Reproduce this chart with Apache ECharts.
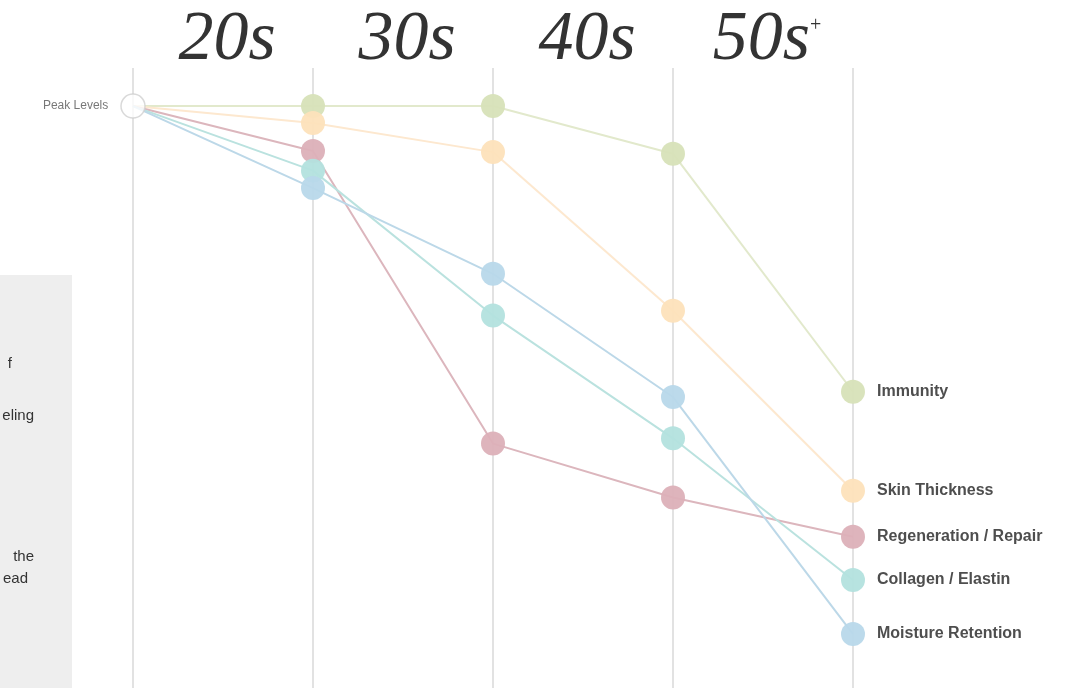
<!DOCTYPE html>
<html>
<head>
<meta charset="utf-8">
<script src="https://cdn.jsdelivr.net/npm/echarts@6/dist/echarts.min.js"></script>
<style>
html,body{margin:0;padding:0;background:#fff;}
#chart{width:1090px;height:688px;}
</style>
</head>
<body>
<div id="chart"></div>
<script>
// Stage positions: 0 = peak, 1..4 = end of each decade
var stages = [0, 1, 2, 3, 4];
var decadeLabels = ['20s', '30s', '40s', '50s'];
var peakLabel = 'Peak Levels';
var peakValue = 100;

var seriesNames = ['Immunity', 'Skin Thickness', 'Regeneration / Repair', 'Collagen / Elastin', 'Moisture Retention'];
var immunity     = [100, 100, 100, 91, 46];
var skinThick    = [100, 96.8, 91.3, 61.3, 27.3];
var regeneration = [100, 91.5, 36.2, 26.0, 18.6];
var collagen     = [100, 87.8, 60.4, 37.2, 10.4];
var moisture     = [100, 84.5, 68.3, 45.0, 0.2];

var seriesValues = [immunity, skinThick, regeneration, collagen, moisture];
var colors = ['#d7e2b8', '#fde1ba', '#dcb0b8', '#b3e1de', '#b8d8ea'];
var lineColors = ['#e2e9cc', '#fde8cf', '#dcb6bd', '#bae2df', '#bcd8e8'];

var sideNotes = ['f', 'eling', 'the', 'ead'];

var chart = echarts.init(document.getElementById('chart'));

var series = seriesValues.map(function (vals, si) {
  return {
    type: 'line',
    name: seriesNames[si],
    z: 3 + si,
    symbol: 'circle',
    symbolSize: 24,
    showAllSymbol: true,
    lineStyle: { color: lineColors[si], width: 2 },
    itemStyle: { color: colors[si], opacity: 0.95 },
    emphasis: { disabled: true },
    data: vals.map(function (v, i) {
      var item = { value: [stages[i], v] };
      if (i === 0) { item.symbol = 'none'; }
      if (i === vals.length - 1) {
        item.label = {
          show: true,
          position: 'right',
          distance: 12,
          formatter: seriesNames[si],
          fontFamily: 'Liberation Sans, Arial, sans-serif',
          fontWeight: 'bold',
          fontSize: 16,
          color: '#444'
        };
      }
      return item;
    })
  };
});

series.push({
  type: 'scatter',
  z: 10,
  symbol: 'circle',
  symbolSize: 24,
  itemStyle: { color: '#ffffff', borderColor: '#cfcfcf', borderWidth: 1.5 },
  label: {
    show: true,
    position: 'left',
    distance: 12,
    formatter: peakLabel,
    fontFamily: 'Liberation Sans, Arial, sans-serif',
    fontSize: 12,
    color: '#555'
  },
  emphasis: { disabled: true },
  data: [[stages[0], peakValue]]
});

var noteY = [364, 416, 557, 579];
var noteX = [12, 34, 34, 28];

chart.setOption({
  animation: false,
  backgroundColor: '#ffffff',
  grid: { left: 133, right: 237, top: 68, bottom: 0, containLabel: false },
  xAxis: [{
    type: 'value',
    min: 0, max: 4, interval: 1,
    axisLine: { show: false },
    axisTick: { show: false },
    axisLabel: { show: false },
    splitLine: { show: true, lineStyle: { color: '#e2e2e2', width: 2 } }
  }, {
    type: 'category',
    position: 'top',
    offset: -10,
    data: decadeLabels,
    boundaryGap: true,
    axisLine: { show: false },
    axisTick: { show: false },
    splitLine: { show: false },
    axisLabel: {
      margin: 2,
      formatter: function (v) { return v === '50s' ? '{big|50s}{sup|+}' : '{big|' + v + '}'; },
      rich: {
        big: { fontFamily: 'Liberation Serif, Times New Roman, serif', fontStyle: 'italic', fontSize: 70, color: '#333', lineHeight: 70, padding: [0, 0, 0, 8] },
        sup: { fontFamily: 'Liberation Serif, Times New Roman, serif', fontSize: 20, color: '#333', verticalAlign: 'top', lineHeight: 70, padding: [10, 0, 0, 0] }
      }
    }
  }],
  yAxis: {
    type: 'value', min: -10, max: 107.2, show: false,
    splitLine: { show: false }
  },
  graphic: [{
    type: 'rect',
    z: -1,
    shape: { x: 0, y: 275, width: 72, height: 413 },
    style: { fill: '#eeeeee' }
  }].concat(sideNotes.map(function (t, i) {
    return {
      type: 'text',
      x: noteX[i], y: noteY[i],
      style: {
        text: t,
        align: 'right',
        verticalAlign: 'middle',
        fontFamily: 'Liberation Sans, Arial, sans-serif',
        fontSize: 15,
        fill: '#333'
      }
    };
  })),
  series: series
});
</script>
</body>
</html>
